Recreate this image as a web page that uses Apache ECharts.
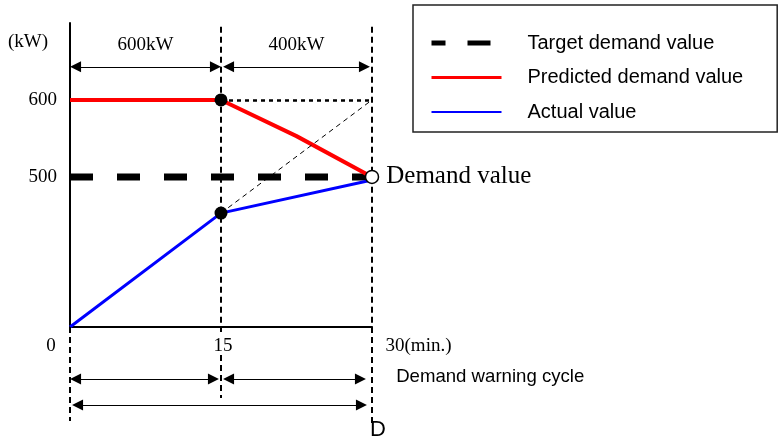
<!DOCTYPE html>
<html><head><meta charset="utf-8">
<script src="https://cdn.jsdelivr.net/npm/echarts@6/dist/echarts.min.js"></script>
<style>html,body{margin:0;padding:0;background:#fff;}#c{width:778px;height:438px;}</style>
</head><body><div id="c"></div>
<script>
// ---- data ----
const xTicks = [0, 15, 30];
const yTicks = [500, 600];
const seriesNames = ['Target demand value', 'Predicted demand value', 'Actual value'];
const targetDemand = [[0, 500], [30, 500]];
const predictedDemand = [[0, 600], [15, 600], [22.5, 553], [30, 500]];
const actualValue = [[0, 305], [15, 453], [30, 496]];
const projectionLine = [[15, 453], [30, 600]];
const predictedCap = [[15, 600], [30, 600]];
const markedPoints = [[15, 600], [15, 453]];
const demandPoint = [[30, 500]];
const spanLabels = ['600kW', '400kW'];
const topSpans = [[0, 15], [15.2, 29.8]];          // arrow tips (min)
const cycleSpans = [[0, 14.8], [15.2, 29.4]];      // arrow tips (min)
const dSpan = [0.2, 29.5];                          // arrow tips (min)
const annotationTexts = ['Demand warning cycle', 'D'];

// ---- fonts / style ----
const SERIF = "'Liberation Serif', 'Times New Roman', serif";
const SANS = "'Liberation Sans', Arial, sans-serif";
const INSET = 0.55;
const vDash = { color: '#000', width: 2, type: [6, 4] };
const arrowStyle = { color: '#000', width: 1, type: 'solid' };

function arrow(span, y, extra) {
  const a = Object.assign({ coord: [span[0] + INSET, y], lineStyle: arrowStyle, symbol: 'triangle', symbolSize: 11 }, extra || {});
  return [a, { coord: [span[1] - INSET, y], symbol: 'triangle', symbolSize: 11 }];
}
function seg(p1, p2, style) {
  return [{ coord: p1, lineStyle: style, symbol: 'none' }, { coord: p2, symbol: 'none' }];
}

const chart = echarts.init(document.getElementById('c'), null, { renderer: 'canvas' });
const option = {
  animation: false,
  backgroundColor: '#fff',
  grid: [
    { left: 70, top: 23, width: 302, height: 304 },
    { left: 70, top: 327, width: 302, height: 100 }
  ],
  xAxis: [
    {
      type: 'value', gridIndex: 0, min: 0, max: 30, interval: 15,
      axisLine: { show: true, lineStyle: { color: '#000', width: 2 } },
      axisTick: { show: false }, splitLine: { show: false },
      axisLabel: {
        margin: 10, color: '#000', fontFamily: SERIF, fontSize: 19,
        formatter: function (v) {
          if (v === xTicks[0]) return '{l|' + v + '}';
          if (v === xTicks[2]) return '{r|' + v + '(min.)}';
          return '{m|' + v + '}';
        },
        rich: {
          l: { fontFamily: SERIF, fontSize: 19, color: '#000', padding: [0, 38, 0, 0] },
          m: { fontFamily: SERIF, fontSize: 19, color: '#000', padding: [0, 0, 0, 4] },
          r: { fontFamily: SERIF, fontSize: 19, color: '#000', padding: [0, 0, 0, 93] }
        }
      }
    },
    { type: 'value', gridIndex: 1, min: 0, max: 30, show: false }
  ],
  yAxis: [
    {
      type: 'value', gridIndex: 0, min: 305, max: 700,
      name: '(kW)', nameLocation: 'end', nameGap: -19,
      nameTextStyle: { fontFamily: SERIF, fontSize: 19, color: '#000', align: 'right', verticalAlign: 'middle', padding: [0, 22, 0, 0] },
      axisLine: { show: true, lineStyle: { color: '#000', width: 2 } },
      axisTick: { show: false }, splitLine: { show: false },
      axisLabel: { customValues: yTicks, margin: 13, color: '#000', fontFamily: SERIF, fontSize: 19 }
    },
    { type: 'value', gridIndex: 1, min: 0, max: 100, show: false }
  ],
  legend: {
    orient: 'vertical', left: 413, top: 5,
    padding: [28, 34, 10, 16],
    itemWidth: 70, itemHeight: 20, itemGap: 14.5,
    selectedMode: false,
    borderColor: '#222', borderWidth: 1.5,
    textStyle: { fontFamily: SANS, fontSize: 20, color: '#000', lineHeight: 20, padding: [0, 0, 0, 21] },
    data: [
      { name: seriesNames[0], itemStyle: { opacity: 0 }, lineStyle: { width: 5, type: [14, 22, 23, 60], color: '#000' } },
      { name: seriesNames[1], itemStyle: { opacity: 0 }, lineStyle: { width: 3, color: '#ff0000' } },
      { name: seriesNames[2], itemStyle: { opacity: 0 }, lineStyle: { width: 2, color: '#0000ff' } }
    ]
  },
  series: [
    {
      name: 'guides', type: 'line', xAxisIndex: 0, yAxisIndex: 0, data: [], silent: true,
      markLine: {
        silent: true, symbol: 'none', animation: false,
        label: { show: false },
        data: [
          seg([15, 695], [15, 305], vDash),
          seg([30, 695], [30, 305], vDash),
          seg(predictedCap[0], predictedCap[1], { color: '#000', width: 2.5, type: [4, 4] }),
          seg(projectionLine[0], projectionLine[1], { color: '#000', width: 1, type: [5, 4] }),
          arrow(topSpans[0], 643, { label: { show: true, position: 'insideMiddleTop', distance: 12, formatter: spanLabels[0], fontFamily: SERIF, fontSize: 19, color: '#000' } }),
          arrow(topSpans[1], 643, { label: { show: true, position: 'insideMiddleTop', distance: 12, formatter: spanLabels[1], fontFamily: SERIF, fontSize: 19, color: '#000' } })
        ]
      }
    },
    {
      name: seriesNames[0], type: 'line', xAxisIndex: 0, yAxisIndex: 0, data: targetDemand,
      symbol: 'none', lineStyle: { color: '#000', width: 7, type: [23, 24] }, itemStyle: { color: '#000' }
    },
    {
      name: seriesNames[1], type: 'line', xAxisIndex: 0, yAxisIndex: 0, data: predictedDemand,
      symbol: 'none', lineStyle: { color: '#ff0000', width: 4 }, itemStyle: { color: '#ff0000' }
    },
    {
      name: seriesNames[2], type: 'line', xAxisIndex: 0, yAxisIndex: 0, data: actualValue,
      symbol: 'none', lineStyle: { color: '#0000ff', width: 3 }, itemStyle: { color: '#0000ff' }
    },
    {
      name: 'points', type: 'scatter', xAxisIndex: 0, yAxisIndex: 0, data: markedPoints,
      symbolSize: 13, itemStyle: { color: '#000', opacity: 1 }, z: 5
    },
    {
      name: 'demand', type: 'scatter', xAxisIndex: 0, yAxisIndex: 0, data: demandPoint,
      symbolSize: 13, itemStyle: { color: '#fff', borderColor: '#000', borderWidth: 1.5, opacity: 1 }, z: 6,
      label: { show: true, position: 'right', distance: 7, formatter: 'Demand value', fontFamily: SERIF, fontSize: 25, color: '#000' }
    },
    {
      name: 'cycle', type: 'line', xAxisIndex: 1, yAxisIndex: 1, data: [], silent: true,
      markLine: {
        silent: true, symbol: 'none', animation: false,
        label: { show: false },
        data: [
          seg([0, 100], [0, 6], vDash),
          seg([15, 100], [15, 95], vDash),
          seg([15, 72], [15, 29], vDash),
          seg([30, 100], [30, 2], vDash),
          arrow(cycleSpans[0], 48),
          arrow(cycleSpans[1], 48),
          arrow(dSpan, 22)
        ]
      }
    },
    {
      name: 'notes', type: 'scatter', xAxisIndex: 1, yAxisIndex: 1, clip: false, silent: true,
      symbolSize: 0, itemStyle: { opacity: 1 },
      data: [
        { value: [32.4, 50], label: { show: true, position: 'right', distance: 0, formatter: annotationTexts[0], fontFamily: SANS, fontSize: 18.6, color: '#000' } },
        { value: [30.6, -3], label: { show: true, position: 'inside', formatter: annotationTexts[1], fontFamily: SANS, fontSize: 22, color: '#000' } }
      ]
    }
  ]
};
chart.setOption(option);
</script>
</body></html>
